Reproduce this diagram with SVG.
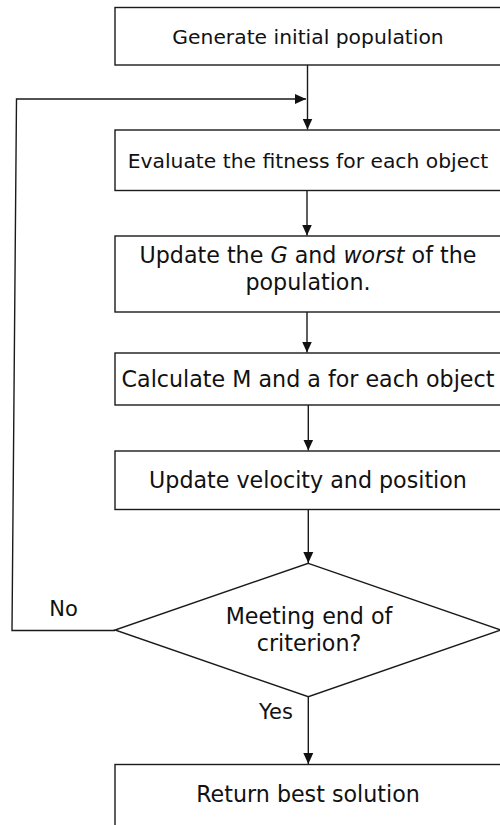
<svg xmlns="http://www.w3.org/2000/svg" width="500" height="825" viewBox="0 0 500 825">
<style>
.box{fill:#fff;stroke:#1a1a1a;stroke-width:1.4}
.t{font-family:"DejaVu Sans",sans-serif;font-size:22.2px;fill:#111;text-anchor:middle}
.s{font-size:20.3px}
.lbl{font-family:"DejaVu Sans",sans-serif;font-size:21px;fill:#111;text-anchor:middle}
.c{fill:none;stroke:#1a1a1a;stroke-width:1.4}
</style>
<defs>
<marker id="ah" markerUnits="userSpaceOnUse" markerWidth="12" markerHeight="12" viewBox="0 0 12 12" refX="11" refY="6" orient="auto">
<path d="M0,1 L11,6 L0,11 Z" fill="#111"/>
</marker>
</defs>
<rect width="500" height="825" fill="#fff"/>
<g id="connectors">
<path class="c" d="M307.5,65 V129.5" marker-end="url(#ah)"/>
<path class="c" d="M115,630.5 H12 L16.5,99 H306" marker-end="url(#ah)"/>
<path class="c" d="M307,190.5 V235.5" marker-end="url(#ah)"/>
<path class="c" d="M307,312 V352.5" marker-end="url(#ah)"/>
<path class="c" d="M308.3,405 V450.5" marker-end="url(#ah)"/>
<path class="c" d="M308.3,509.5 V563" marker-end="url(#ah)"/>
<path class="c" d="M308.3,697 V764" marker-end="url(#ah)"/>
<text class="lbl" x="63.5" y="616">No</text>
<text class="lbl" x="276" y="719">Yes</text>
</g>
<g id="n1">
<rect class="box" x="115" y="7.5" width="390" height="57.5"/>
<text class="t s" x="308" y="44">Generate initial population</text>
</g>
<g id="n2">
<rect class="box" x="115" y="130" width="390" height="60.5"/>
<text class="t s" x="308" y="167.5">Evaluate the fitness for each object</text>
</g>
<g id="n3">
<rect class="box" x="115" y="236" width="390" height="76"/>
<text class="t" x="308" y="262.5">Update the <tspan font-style="italic">G</tspan> and <tspan font-style="italic">worst</tspan> of the</text>
<text class="t" x="308" y="290">population.</text>
</g>
<g id="n4">
<rect class="box" x="115" y="353" width="390" height="52"/>
<text class="t" x="308" y="386.5">Calculate M and a for each object</text>
</g>
<g id="n5">
<rect class="box" x="115" y="451" width="390" height="58.5"/>
<text class="t" x="308" y="487.5">Update velocity and position</text>
</g>
<g id="n6">
<polygon class="box" points="308.3,563.3 501,630 308.3,696.7 115,630"/>
<text class="t" x="309" y="624">Meeting end of</text>
<text class="t" x="309" y="650.5">criterion?</text>
</g>
<g id="n7">
<rect class="box" x="115" y="764.5" width="390" height="70"/>
<text class="t" x="308" y="801.5">Return best solution</text>
</g>
</svg>
